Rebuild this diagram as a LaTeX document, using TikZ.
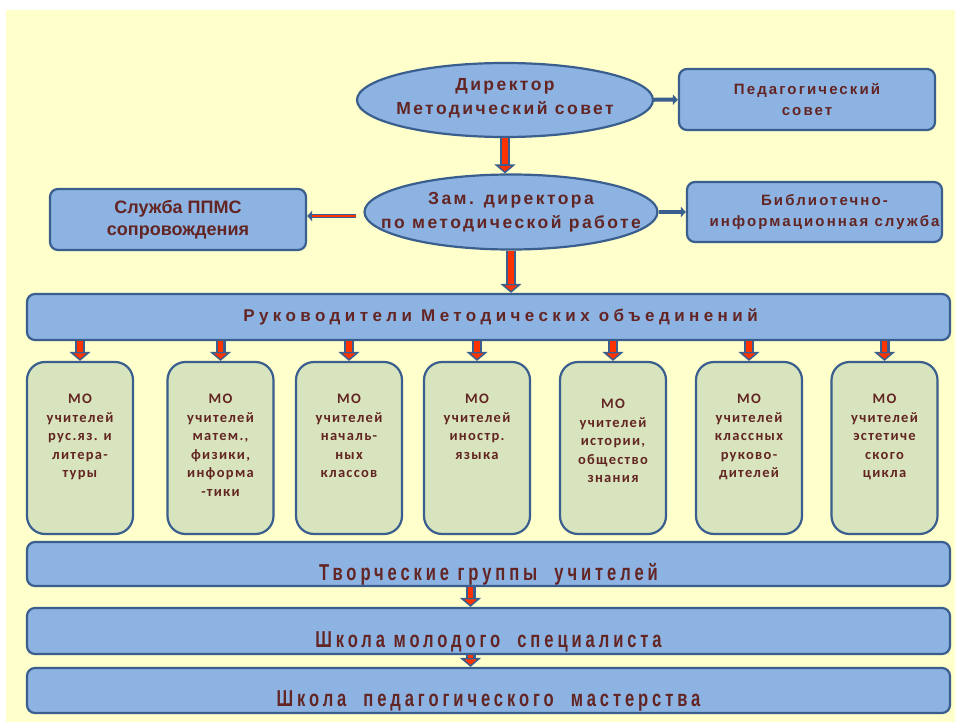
\documentclass[tikz,border=0pt]{standalone}
\usepackage{fontspec}
\setmainfont{Liberation Sans}
\newfontfamily\spacedfont[LetterSpace=14]{Liberation Sans}
\newfontfamily\widefont[LetterSpace=26]{Liberation Sans}
\newfontfamily\condfont[FakeStretch=0.72,LetterSpace=17]{Liberation Sans}
\newfontfamily\mofont[LetterSpace=9]{Carlito}
\usetikzlibrary{shapes.geometric,arrows.meta}
\definecolor{bgyellow}{HTML}{FFFFCC}
\definecolor{boxblue}{HTML}{8DB3E2}
\definecolor{edgeblue}{HTML}{3A5F8E}
\definecolor{mogreen}{HTML}{D7E4BD}
\definecolor{txtbrown}{HTML}{632523}
\definecolor{arrowred}{HTML}{FF3300}
\tikzset{
  bluebox/.style={draw=edgeblue,fill=boxblue,line width=2.2pt,rounded corners=8pt,inner sep=0pt,text=txtbrown,align=center},
  ovalbox/.style={ellipse,draw=edgeblue,fill=boxblue,line width=2.2pt,inner sep=0pt},
  mobox/.style={draw=edgeblue,fill=mogreen,line width=2.2pt,rounded corners=18pt,minimum width=106pt,minimum height=172pt,inner sep=0pt},
  bar/.style={bluebox,minimum width=923pt},
  ovaltext/.style={align=center,text=txtbrown,font=\spacedfont\bfseries\fontsize{17.5}{24.5}\selectfont},
  sidetext/.style={align=center,text=txtbrown,font=\spacedfont\bfseries\fontsize{15}{21.5}\selectfont},
  ruktext/.style={text=txtbrown,font=\widefont\bfseries\fontsize{17}{20}\selectfont},
  motext/.style={anchor=north,yshift=-30pt,align=center,text=txtbrown,font=\mofont\bfseries\fontsize{14.5}{18.5}\selectfont},
  bartext/.style={font=\condfont\bfseries\fontsize{23}{26}\selectfont,text height=36pt,text depth=4pt},
  bigarr/.style={draw=edgeblue,line width=10pt,-{Triangle[width=21pt,length=9pt,fill=arrowred,line width=1.5pt]},
    postaction={draw=arrowred,line width=5.5pt,-,shorten >=9pt}},
  thinarr/.style={draw=edgeblue,line width=4pt,-{Triangle[width=10pt,length=5pt]}},
  ppmsarr/.style={thinarr,postaction={draw=arrowred,line width=1.4pt,-,shorten >=5pt}}
}
\begin{document}
\begin{tikzpicture}[x=1pt,y=-1pt]
\useasboundingbox (0,0) rectangle (955,722);
\fill[bgyellow] (6,10) rectangle (955,722);
% top part
\node[ovalbox,minimum width=296pt,minimum height=74pt,
  label={[ovaltext,yshift=2pt]center:{Директор\\Методический совет}}] (dir) at (505,100) {};
\node[ovalbox,minimum width=293pt,minimum height=75pt,
  label={[ovaltext]center:{Зам. директора\\по методической работе}}] (zam) at (511,212) {};
\node[bluebox,minimum width=256pt,minimum height=61pt,sidetext] (ped) at (807,99.5) {Педагогический\\совет};
\node[bluebox,minimum width=255pt,minimum height=60pt,
  label={[sidetext,xshift=10pt]center:{Библиотечно-\\информационная служба}}] (bib) at (814.5,212) {};
\node[bluebox,minimum width=256pt,minimum height=61pt,font=\bfseries\fontsize{18}{22}\selectfont] (ppms) at (178,219.5) {Служба ППМС\\сопровождения};
\draw[bigarr] (dir) -- (dir |- zam.north);
\draw[thinarr] (dir) -- (ped);
\draw[thinarr] (zam) -- (bib);
\coordinate (pp) at ([xshift=-7pt,yshift=-4pt]zam.west);
\draw[ppmsarr] (pp) -- (pp -| ppms.east);
% MO leaders
\node[bar,minimum height=46pt,
  label={[ruktext,xshift=12pt]center:{Руководители Методических объединений}}] (ruk) at (488.5,317) {};
\draw[bigarr] (zam) -- (zam |- ruk.north);
\node[mobox,label={[motext]north:{МО\\учителей\\рус.яз. и\\литера-\\туры}}] (mo1) at (80,448) {};
\node[mobox,label={[motext]north:{МО\\учителей\\матем.,\\физики,\\информа\\-тики}}] (mo2) at (220.5,448) {};
\node[mobox,label={[motext]north:{МО\\учителей\\началь-\\ных\\классов}}] (mo3) at (349,448) {};
\node[mobox,label={[motext]north:{МО\\учителей\\иностр.\\языка}}] (mo4) at (477,448) {};
\node[mobox,label={[motext,yshift=-5pt]north:{МО\\учителей\\истории,\\общество\\знания}}] (mo5) at (613,448) {};
\node[mobox,label={[motext]north:{МО\\учителей\\классных\\руково-\\дителей}}] (mo6) at (749,448) {};
\node[mobox,label={[motext]north:{МО\\учителей\\эстетиче\\ского\\цикла}}] (mo7) at (884.5,448) {};
\foreach \i in {1,...,7}
  \draw[bigarr] (mo\i |- ruk.south) -- (mo\i);
% bottom bars
\node[bar,minimum height=44pt,bartext] (tvor) at (488.5,564) {Творческие группы~ учителей};
\node[bar,minimum height=46pt,bartext] (shmol) at (488.5,631) {Школа молодого~ специалиста};
\node[bar,minimum height=45pt,bartext] (shped) at (488.5,690.5) {Школа~ педагогического~ мастерства};
\draw[bigarr] ([xshift=-18pt]tvor.south) -- ([xshift=-18pt]shmol.north);
\draw[bigarr] ([xshift=-18pt]shmol.south) -- ([xshift=-18pt]shped.north);
\end{tikzpicture}
\end{document}
